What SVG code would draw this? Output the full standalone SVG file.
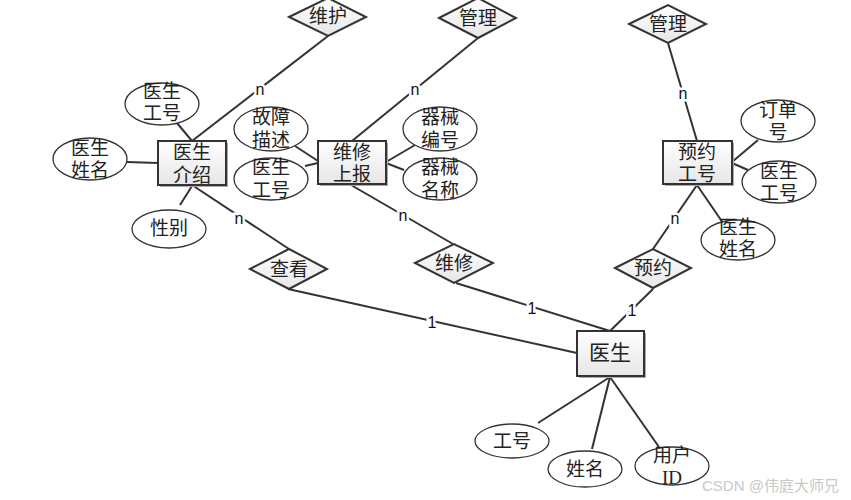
<svg xmlns="http://www.w3.org/2000/svg" width="851" height="500" viewBox="0 0 851 500">
<defs>
<linearGradient id="g" x1="0" y1="0" x2="0" y2="1"><stop offset="0" stop-color="#ffffff"/><stop offset="1" stop-color="#e6e6e6"/></linearGradient>
<style>
.e{fill:url(#g);stroke:#333;stroke-width:2}
.sh{fill:#aaa}
.d{fill:url(#g);stroke:#333;stroke-width:2}
.o{fill:#fff;stroke:#333;stroke-width:1.3}
.t{font-family:"Liberation Serif","Noto Sans CJK SC",serif;font-size:19px;fill:#222;text-anchor:middle;dominant-baseline:central}
.c line{stroke:#333;stroke-width:2}
.l{font-family:"Liberation Sans","DejaVu Sans",sans-serif;font-size:16px;fill:#111;text-anchor:middle;dominant-baseline:central;stroke:#fff;stroke-width:5;paint-order:stroke}
.w{font-family:"Liberation Sans","Noto Sans CJK SC",sans-serif;font-size:15px;fill:#c8c8c8;text-anchor:start}
</style>
</defs>
<rect width="851" height="500" fill="#fff"/>
<g class="c" id="connectors">
<line x1="192" y1="141" x2="328" y2="36"/>
<line x1="177" y1="123" x2="192" y2="141"/>
<line x1="127" y1="162" x2="158" y2="163"/>
<line x1="180" y1="205" x2="192" y2="186"/>
<line x1="192" y1="185" x2="289" y2="249"/>
<line x1="288" y1="289" x2="577" y2="353"/>
<line x1="352" y1="141" x2="478" y2="38"/>
<line x1="295" y1="146" x2="318" y2="161"/>
<line x1="305" y1="166" x2="318" y2="163"/>
<line x1="386" y1="162" x2="415" y2="145"/>
<line x1="386" y1="163" x2="404" y2="170"/>
<line x1="351" y1="185" x2="453" y2="244"/>
<line x1="456" y1="283" x2="610" y2="331"/>
<line x1="668" y1="43" x2="697" y2="141"/>
<line x1="697" y1="185" x2="653" y2="249"/>
<line x1="732" y1="162" x2="758" y2="140"/>
<line x1="732" y1="163" x2="748" y2="170"/>
<line x1="697" y1="185" x2="723" y2="223"/>
<line x1="653" y1="289" x2="610" y2="331"/>
<line x1="610" y1="377" x2="538" y2="423"/>
<line x1="610" y1="377" x2="592" y2="449"/>
<line x1="610" y1="377" x2="659" y2="447"/>
<text class="l" x="260" y="89">n</text>
<text class="l" x="239" y="218">n</text>
<text class="l" x="432" y="322">1</text>
<text class="l" x="415" y="89">n</text>
<text class="l" x="403" y="215">n</text>
<text class="l" x="532" y="308">1</text>
<text class="l" x="683" y="93">n</text>
<text class="l" x="675" y="218">n</text>
<text class="l" x="632" y="310">1</text>
</g>
<g id="ent-doctor-intro"><rect class="sh" x="160" y="143" width="68" height="44"/><rect class="e" x="158" y="141" width="68" height="44"/><text class="t" x="192" y="152">医生</text><text class="t" x="192" y="175">介绍</text></g>
<g id="ent-repair-report"><rect class="sh" x="320" y="143" width="68" height="43"/><rect class="e" x="318" y="141" width="68" height="43"/><text class="t" x="352" y="152">维修</text><text class="t" x="352" y="174">上报</text></g>
<g id="ent-appoint-id"><rect class="sh" x="665" y="143" width="69" height="43"/><rect class="e" x="663" y="141" width="69" height="43"/><text class="t" x="697" y="152">预约</text><text class="t" x="697" y="174">工号</text></g>
<g id="ent-doctor"><rect class="sh" x="579" y="333" width="67" height="45"/><rect class="e" x="577" y="331" width="67" height="45"/><text class="t" x="610" y="353" style="font-size:21px">医生</text></g>
<g id="rel-maintain"><polygon class="d" points="289,17 328,-2 366,17 328,36"/><text class="t" x="328" y="16">维护</text></g>
<g id="rel-manage1"><polygon class="d" points="439,18 478,-2 516,18 478,38"/><text class="t" x="478" y="18">管理</text></g>
<g id="rel-manage2"><polygon class="d" points="629,24 668,5 706,24 668,43"/><text class="t" x="668" y="24">管理</text></g>
<g id="rel-view"><polygon class="d" points="250,269 289,249 327,269 289,289"/><text class="t" x="289" y="269">查看</text></g>
<g id="rel-repair"><polygon class="d" points="415,263 454,244 493,263 454,283"/><text class="t" x="454" y="263">维修</text></g>
<g id="rel-appoint"><polygon class="d" points="615,268 653,249 691,268 653,288"/><text class="t" x="653" y="268">预约</text></g>
<g id="attr-a1"><ellipse class="o" cx="162" cy="104" rx="37" ry="21"/><text class="t" x="162" y="91">医生</text><text class="t" x="162" y="113">工号</text></g>
<g id="attr-a2"><ellipse class="o" cx="90" cy="159" rx="37" ry="21"/><text class="t" x="90" y="148">医生</text><text class="t" x="90" y="170">姓名</text></g>
<g id="attr-a3"><ellipse class="o" cx="169" cy="229" rx="37" ry="19"/><text class="t" x="169" y="228">性别</text></g>
<g id="attr-b1"><ellipse class="o" cx="271" cy="129" rx="37" ry="22"/><text class="t" x="271" y="117">故障</text><text class="t" x="271" y="140">描述</text></g>
<g id="attr-b2"><ellipse class="o" cx="271" cy="179" rx="37" ry="21"/><text class="t" x="271" y="167">医生</text><text class="t" x="271" y="190">工号</text></g>
<g id="attr-b3"><ellipse class="o" cx="440" cy="129" rx="37" ry="22"/><text class="t" x="440" y="117">器械</text><text class="t" x="440" y="140">编号</text></g>
<g id="attr-b4"><ellipse class="o" cx="440" cy="179" rx="37" ry="21"/><text class="t" x="440" y="167">器械</text><text class="t" x="440" y="190">名称</text></g>
<g id="attr-c1"><ellipse class="o" cx="778" cy="121" rx="37" ry="21"/><text class="t" x="778" y="110">订单</text><text class="t" x="778" y="132">号</text></g>
<g id="attr-c2"><ellipse class="o" cx="779" cy="182" rx="37" ry="21"/><text class="t" x="779" y="171">医生</text><text class="t" x="779" y="193">工号</text></g>
<g id="attr-c3"><ellipse class="o" cx="738" cy="240" rx="37" ry="20"/><text class="t" x="738" y="227">医生</text><text class="t" x="738" y="249">姓名</text></g>
<g id="attr-d1"><ellipse class="o" cx="512" cy="441" rx="37" ry="17"/><text class="t" x="512" y="441">工号</text></g>
<g id="attr-d2"><ellipse class="o" cx="585" cy="469" rx="37" ry="18"/><text class="t" x="585" y="469">姓名</text></g>
<g id="attr-d3"><ellipse class="o" cx="672" cy="466" rx="37" ry="19"/><text class="t" x="672" y="455">用户</text><text class="t" x="672" y="477">ID</text></g>
<text class="w" x="702" y="491">CSDN @伟庭大师兄</text>
</svg>
